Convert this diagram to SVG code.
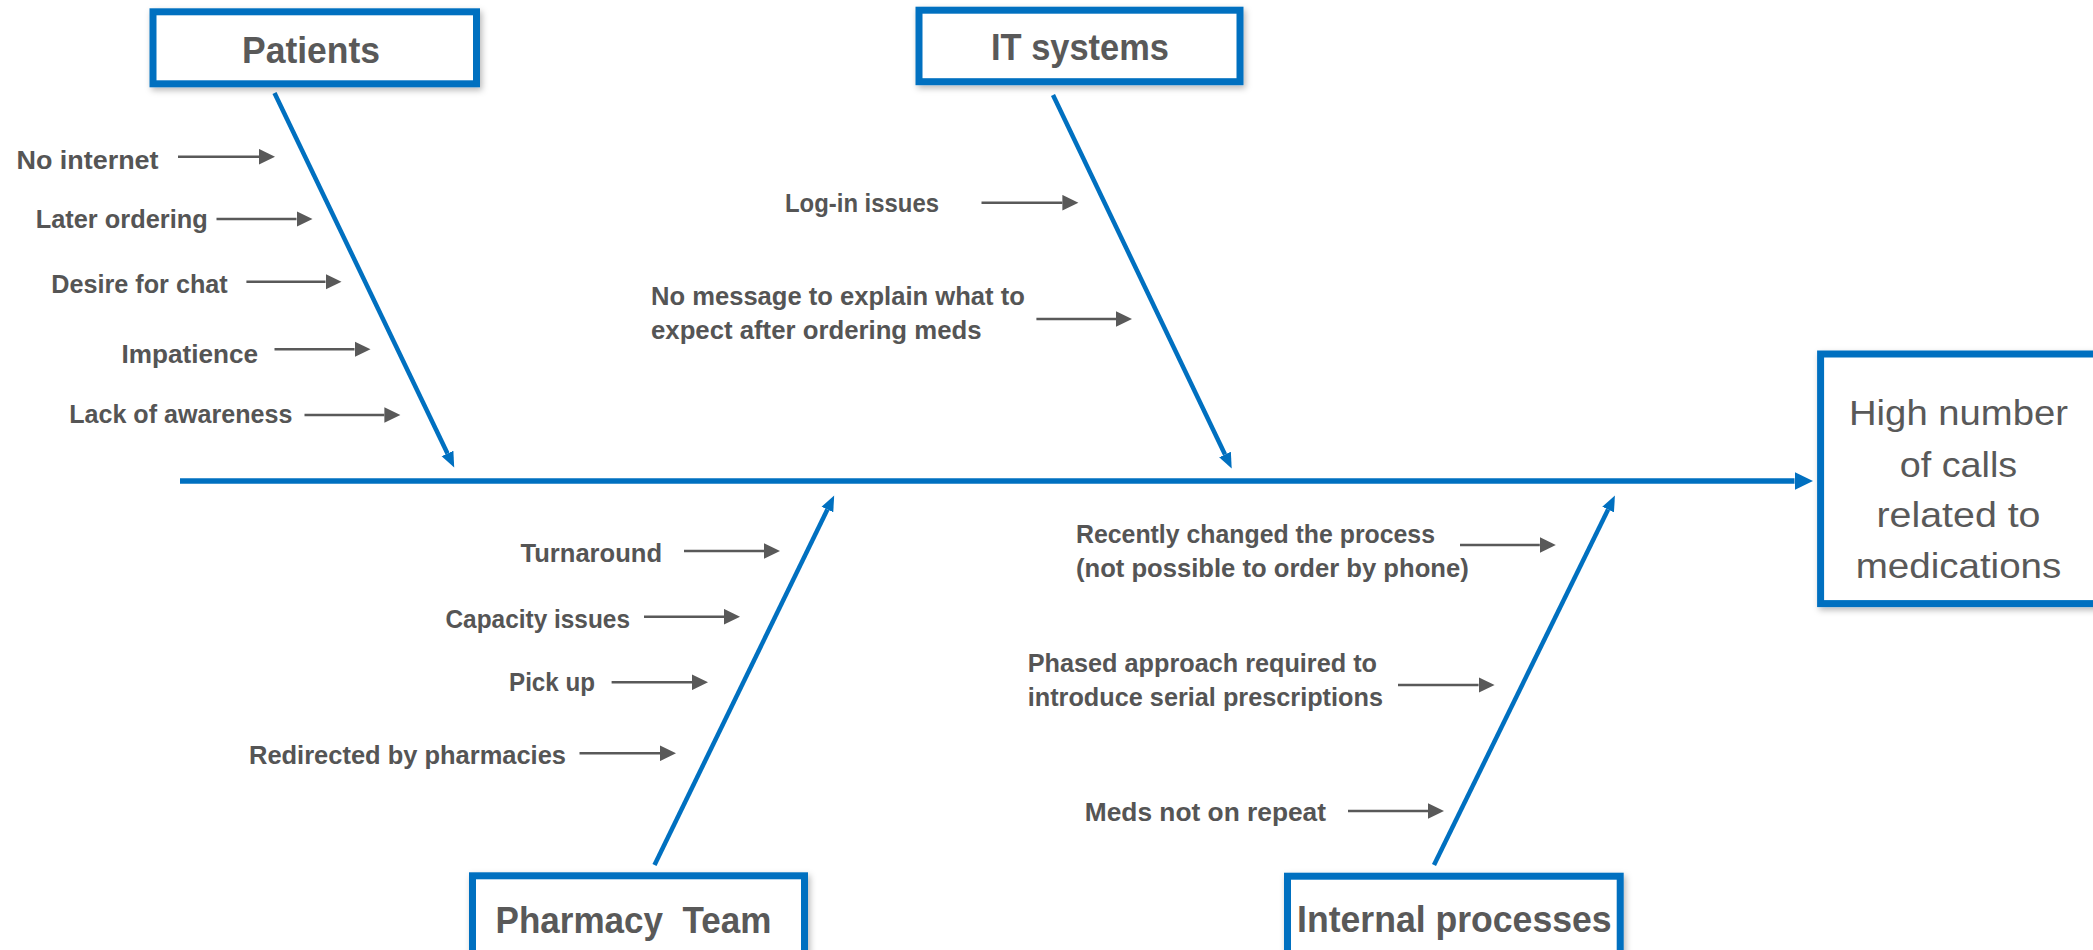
<svg xmlns="http://www.w3.org/2000/svg" width="2093" height="950" viewBox="0 0 2093 950">
<style>
.box{fill:#ffffff;stroke:#0070C0;stroke-width:7;filter:url(#sh)}
.hdr{font-family:"Liberation Sans",Arial,sans-serif;font-weight:bold;font-size:36px;fill:#595959;text-anchor:middle;white-space:pre}
.eff{font-family:"Liberation Sans",Arial,sans-serif;font-size:35px;fill:#595959;text-anchor:middle}
.lbl{font-family:"Liberation Sans",Arial,sans-serif;font-weight:bold;font-size:26px;fill:#555555}
.bone{stroke:#0070C0;stroke-width:4.5;fill:none}
.spine{stroke:#0070C0;stroke-width:5.5;fill:none}
.ga{stroke:#595959;stroke-width:2.5;fill:none;marker-end:url(#gh)}
</style>
<defs>
<filter id="sh" x="-10%" y="-10%" width="130%" height="140%">
<feDropShadow dx="2" dy="3" stdDeviation="3" flood-color="#000000" flood-opacity="0.28"/>
</filter>
<marker id="bh" markerUnits="userSpaceOnUse" viewBox="0 -7 16 14" markerWidth="16" markerHeight="14" refX="0" refY="0" orient="auto">
<path d="M0,-6.5 L15.5,0 L0,6.5 z" fill="#0070C0"/>
</marker>
<marker id="mh" markerUnits="userSpaceOnUse" viewBox="0 -10 19 20" markerWidth="19" markerHeight="20" refX="0" refY="0" orient="auto">
<path d="M0,-9 L18.5,0 L0,9 z" fill="#0070C0"/>
</marker>
<marker id="gh" markerUnits="userSpaceOnUse" viewBox="0 -8 17 16" markerWidth="17" markerHeight="16" refX="0" refY="0" orient="auto">
<path d="M0,-7.8 L16,0 L0,7.8 z" fill="#595959"/>
</marker>
</defs>
<rect width="2093" height="950" fill="#ffffff"/>

<g id="connectors">
<line class="spine" x1="180" y1="481" x2="1794.5" y2="481" marker-end="url(#mh)"/>
<line class="bone" x1="274.5" y1="93" x2="447.5" y2="453.5" marker-end="url(#bh)"/>
<line class="bone" x1="1053" y1="95" x2="1225" y2="454.5" marker-end="url(#bh)"/>
<line class="bone" x1="654.5" y1="865" x2="827.4" y2="509.5" marker-end="url(#bh)"/>
<line class="bone" x1="1434" y1="865" x2="1608.1" y2="509.5" marker-end="url(#bh)"/>
<line class="ga" x1="178" y1="156.7" x2="259" y2="156.7"/>
<line class="ga" x1="216.5" y1="219" x2="296.5" y2="219"/>
<line class="ga" x1="246.4" y1="281.7" x2="325.5" y2="281.7"/>
<line class="ga" x1="274.5" y1="349.3" x2="354.5" y2="349.3"/>
<line class="ga" x1="304.5" y1="415" x2="384.4" y2="415"/>
<line class="ga" x1="981.5" y1="202.7" x2="1062.4" y2="202.7"/>
<line class="ga" x1="1036.4" y1="319" x2="1116" y2="319"/>
<line class="ga" x1="684" y1="551" x2="764" y2="551"/>
<line class="ga" x1="644" y1="616.7" x2="724" y2="616.7"/>
<line class="ga" x1="611.6" y1="682.3" x2="692" y2="682.3"/>
<line class="ga" x1="579.5" y1="753.3" x2="660" y2="753.3"/>
<line class="ga" x1="1460" y1="545" x2="1539.8" y2="545"/>
<line class="ga" x1="1398" y1="685" x2="1478.6" y2="685"/>
<line class="ga" x1="1348" y1="811" x2="1428" y2="811"/>
</g>

<g id="patients">
<rect class="box" x="153" y="11.8" width="323.5" height="72"/>
<text class="hdr" x="311" y="63" textLength="138" lengthAdjust="spacingAndGlyphs">Patients</text>
</g>
<g id="it-systems">
<rect class="box" x="919" y="10.2" width="321" height="71.5"/>
<text class="hdr" x="1080" y="60" textLength="178" lengthAdjust="spacingAndGlyphs">IT systems</text>
</g>
<g id="pharmacy-team">
<rect class="box" x="472.5" y="875.8" width="332" height="110"/>
<text class="hdr" x="633.5" y="932.7" textLength="276" lengthAdjust="spacingAndGlyphs">Pharmacy  Team</text>
</g>
<g id="internal-processes">
<rect class="box" x="1287.5" y="876.2" width="332.7" height="110"/>
<text class="hdr" x="1454.3" y="931.7" textLength="314.6" lengthAdjust="spacingAndGlyphs">Internal processes</text>
</g>
<g id="effect">
<rect class="box" x="1820.6" y="354" width="300" height="249.6"/>
<text class="eff" x="1958.5" y="425" textLength="219" lengthAdjust="spacingAndGlyphs">High number</text>
<text class="eff" x="1958.5" y="476.7" textLength="117.4" lengthAdjust="spacingAndGlyphs">of calls</text>
<text class="eff" x="1958.5" y="526.7" textLength="164" lengthAdjust="spacingAndGlyphs">related to</text>
<text class="eff" x="1958.5" y="578.3" textLength="205.7" lengthAdjust="spacingAndGlyphs">medications</text>
</g>

<g id="cause-no-internet"><text class="lbl" x="16.5" y="169" textLength="142" lengthAdjust="spacingAndGlyphs">No internet</text></g>
<g id="cause-later-ordering"><text class="lbl" x="35.7" y="228" textLength="172" lengthAdjust="spacingAndGlyphs">Later ordering</text></g>
<g id="cause-desire-for-chat"><text class="lbl" x="51.3" y="293" textLength="176.4" lengthAdjust="spacingAndGlyphs">Desire for chat</text></g>
<g id="cause-impatience"><text class="lbl" x="121.4" y="362.7" textLength="136.6" lengthAdjust="spacingAndGlyphs">Impatience</text></g>
<g id="cause-lack-of-awareness"><text class="lbl" x="69.2" y="423.3" textLength="223.2" lengthAdjust="spacingAndGlyphs">Lack of awareness</text></g>
<g id="cause-login-issues"><text class="lbl" x="785" y="211.7" textLength="154" lengthAdjust="spacingAndGlyphs">Log-in issues</text></g>
<g id="cause-no-message">
<text class="lbl" x="651" y="305" textLength="373.8" lengthAdjust="spacingAndGlyphs">No message to explain what to</text>
<text class="lbl" x="651" y="339.3" textLength="330.5" lengthAdjust="spacingAndGlyphs">expect after ordering meds</text>
</g>
<g id="cause-turnaround"><text class="lbl" x="520.5" y="561.7" textLength="141.5" lengthAdjust="spacingAndGlyphs">Turnaround</text></g>
<g id="cause-capacity-issues"><text class="lbl" x="445.5" y="627.7" textLength="184.5" lengthAdjust="spacingAndGlyphs">Capacity issues</text></g>
<g id="cause-pick-up"><text class="lbl" x="509" y="690.7" textLength="86" lengthAdjust="spacingAndGlyphs">Pick up</text></g>
<g id="cause-redirected"><text class="lbl" x="249" y="764" textLength="317" lengthAdjust="spacingAndGlyphs">Redirected by pharmacies</text></g>
<g id="cause-recently-changed">
<text class="lbl" x="1076" y="543.3" textLength="359" lengthAdjust="spacingAndGlyphs">Recently changed the process</text>
<text class="lbl" x="1076" y="576.7" textLength="392.7" lengthAdjust="spacingAndGlyphs">(not possible to order by phone)</text>
</g>
<g id="cause-phased-approach">
<text class="lbl" x="1027.7" y="671.7" textLength="349.3" lengthAdjust="spacingAndGlyphs">Phased approach required to</text>
<text class="lbl" x="1027.7" y="706" textLength="355.3" lengthAdjust="spacingAndGlyphs">introduce serial prescriptions</text>
</g>
<g id="cause-meds-not-on-repeat"><text class="lbl" x="1084.8" y="820.7" textLength="241.2" lengthAdjust="spacingAndGlyphs">Meds not on repeat</text></g>
</svg>
